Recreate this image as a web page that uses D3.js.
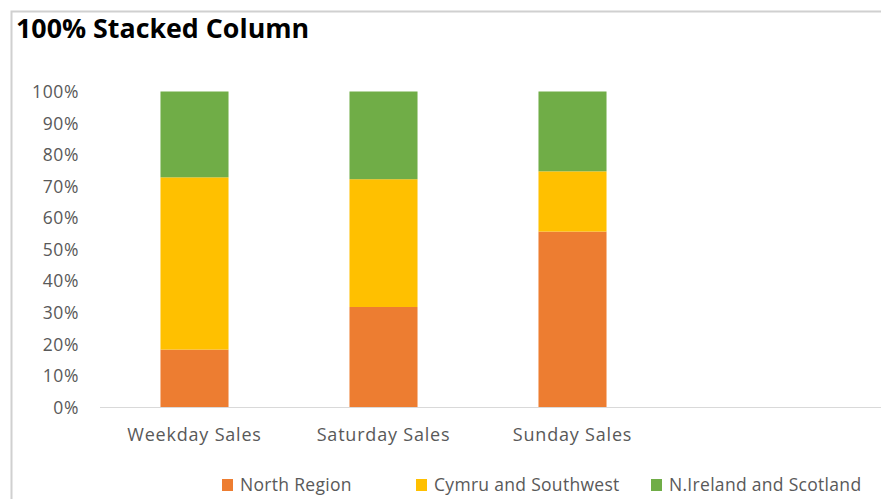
<!DOCTYPE html>
<html>
<head>
<meta charset="utf-8">
<script src="https://cdn.jsdelivr.net/npm/d3@7"></script>
<style>
  body { margin: 0; background: #fff; }
  text { font-family: "Open Sans", "Liberation Sans", sans-serif; }
</style>
</head>
<body>
<div id="chart"></div>
<script>
var categories = ["Weekday Sales", "Saturday Sales", "Sunday Sales"];
var seriesNames = ["North Region", "Cymru and Southwest", "N.Ireland and Scotland"];
var northRegion = [18.2, 31.7, 55.6];
var cymruSouthwest = [54.6, 40.5, 19.1];
var irelandScotland = [27.2, 27.8, 25.3];
var yTicks = [0, 10, 20, 30, 40, 50, 60, 70, 80, 90, 100];

var colors = ["#ed7d31", "#ffc000", "#70ad47"];

function plot() {
  var width = 881, height = 499;

  var svg = d3.select("#chart").append("svg")
    .attr("width", width)
    .attr("height", height);

  // chart frame (only top and left edges show)
  svg.append("path")
    .attr("d", "M11.5,499 V11.5 H881")
    .attr("fill", "none")
    .attr("stroke", "#d0d0d0")
    .attr("stroke-width", 2);

  svg.append("text")
    .attr("x", 16)
    .attr("y", 38)
    .style("font-size", "26.8px")
    .style("font-weight", "bold")
    .attr("fill", "#000")
    .text("100% Stacked Column");

  var rows = categories.map(function(c, i) {
    var total = northRegion[i] + cymruSouthwest[i] + irelandScotland[i];
    return {
      cat: c,
      "North Region": northRegion[i] / total,
      "Cymru and Southwest": cymruSouthwest[i] / total,
      "N.Ireland and Scotland": irelandScotland[i] / total
    };
  });

  var stack = d3.stack().keys(seriesNames);
  var layers = stack(rows);

  var x = d3.scaleBand()
    .domain(categories)
    .range([100, 667])
    .paddingInner(0.64)
    .paddingOuter(0.32);

  var y = d3.scaleLinear()
    .domain([0, 1])
    .range([407, 91.5]);

  var color = d3.scaleOrdinal().domain(seriesNames).range(colors);

  // y axis labels
  var yAxis = svg.append("g")
    .attr("transform", "translate(80,0)")
    .call(d3.axisLeft(y)
      .tickValues(yTicks.map(function(t) { return t / 100; }))
      .tickFormat(function(d) { return Math.round(d * 100) + "%"; })
      .tickSize(0));
  yAxis.select(".domain").remove();
  yAxis.selectAll("text")
    .attr("x", -1)
    .attr("dy", "0.35em")
    .style("font-size", "17.5px")
    .style("letter-spacing", "0.6px")
    .attr("fill", "#595959");

  svg.append("g").selectAll("g")
    .data(layers)
    .enter().append("g")
    .attr("fill", function(d) { return color(d.key); })
    .selectAll("rect")
    .data(function(d) { return d; })
    .enter().append("rect")
    .attr("x", function(d) { return x(d.data.cat); })
    .attr("y", function(d) { return y(d[1]); })
    .attr("height", function(d) { return y(d[0]) - y(d[1]); })
    .attr("width", x.bandwidth());

  // baseline
  svg.append("line")
    .attr("x1", 100).attr("x2", 881)
    .attr("y1", 407.5).attr("y2", 407.5)
    .attr("stroke", "#d9d9d9")
    .attr("stroke-width", 1);

  var xAxis = svg.append("g")
    .attr("transform", "translate(0,407)")
    .call(d3.axisBottom(x).tickSize(0));
  xAxis.select(".domain").remove();
  xAxis.selectAll("text")
    .attr("y", 28)
    .attr("dy", "0.35em")
    .style("font-size", "18px")
    .style("letter-spacing", "0.8px")
    .attr("fill", "#595959");

  // legend
  var legendX = [222, 416, 651];
  var legend = svg.append("g").selectAll("g")
    .data(seriesNames)
    .enter().append("g")
    .attr("transform", function(d, i) { return "translate(" + legendX[i] + ",485)"; });
  legend.append("rect")
    .attr("x", 0).attr("y", -6)
    .attr("width", 11).attr("height", 12)
    .attr("fill", function(d) { return color(d); });
  legend.append("text")
    .attr("x", 18)
    .attr("dy", "0.35em")
    .style("font-size", "17.5px")
    .style("letter-spacing", "0.3px")
    .attr("fill", "#595959")
    .text(function(d) { return d; });
}

plot();
</script>
</body>
</html>
